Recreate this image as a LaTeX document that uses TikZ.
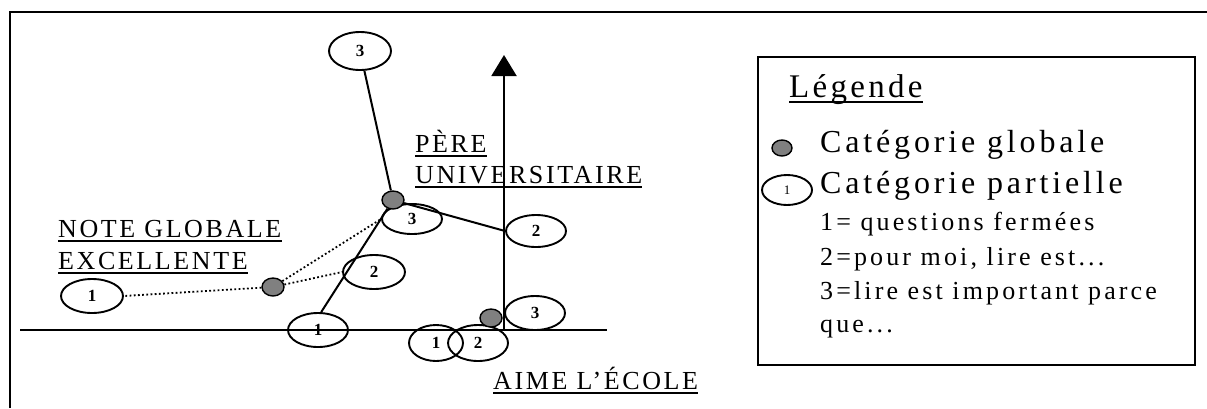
\documentclass[tikz,border=0pt]{standalone}
\usepackage{fontspec}
\setmainfont{Liberation Serif}
\newfontfamily\axisfont[LetterSpace=10]{Liberation Serif}
\newfontfamily\titlefont[LetterSpace=10]{Liberation Serif}
\newfontfamily\keyfont[LetterSpace=12]{Liberation Serif}
\usetikzlibrary{shapes.geometric,arrows.meta}
\definecolor{dotgray}{RGB}{128,128,128}

\begin{document}
\begin{tikzpicture}[x=1pt,y=-1pt,
  part/.style={ellipse,draw,line width=1.9pt,inner sep=0pt,
    font=\fontsize{17}{17}\selectfont\bfseries},
  glob/.style={ellipse,draw,line width=1.4pt,fill=dotgray,inner sep=0pt,
    minimum width=22pt,minimum height=18pt},
  link/.style={line width=2pt},
  dots/.style={line width=1.8pt,dash pattern=on 1.8pt off 2.4pt},
  axislabel/.style={anchor=base west,inner sep=0pt,
    font=\axisfont\fontsize{26}{28}\selectfont},
  keytext/.style={anchor=base west,inner sep=0pt},
  uline/.style={line width=1.3pt}]

\useasboundingbox (0,0) rectangle (1207,408);

% frame
\draw[line width=1.6pt] (10,408) -- (10,12) -- (1207,12);

% axes
\coordinate (origin) at (504,330);
\coordinate (xstart) at (20,330);
\coordinate (xend) at (607,330);
\coordinate (ytip) at (504,55);
\draw[link] (xstart) -- (xend);
\draw[link,-{Triangle[width=25pt,length=21pt]}] (origin) -- (ytip);

% partial categories
\node[part,minimum width=62pt,minimum height=38pt] (t3) at (360,51) {3};
\node[part,minimum width=60pt,minimum height=30pt] (m3) at (412,219) {3};
\node[part,minimum width=60pt,minimum height=32pt] (r2) at (536,231) {2};
\node[part,minimum width=60pt,minimum height=34pt] (b1) at (318,330) {1};
\node[part,minimum width=62pt,minimum height=34pt] (m2) at (374,272) {2};
\node[part,minimum width=62pt,minimum height=34pt] (l1) at (92,296) {1};
\node[part,minimum width=54pt,minimum height=36pt] (o1) at (436,343) {1};
\node[part,minimum width=60pt,minimum height=36pt] (o2) at (478,343) {2};
\node[part,minimum width=60pt,minimum height=34pt] (o3) at (535,313) {3};

% global categories
\node[glob] (ga) at (393,200) {};
\node[glob] (gb) at (273,287) {};
\node[glob] (gc) at (491,318) {};

% links
\draw[link] (t3) -- (ga);
\draw[link] (ga) -- (r2.west);
\draw[link] (ga) -- (b1.80);
\draw[dots] (gb) -- (l1.east);
\draw[dots] (gb) -- (m2.west);
\draw[dots] (gb) -- (m3.west);

% axis labels
\node[axislabel] (ng) at (58,237) {NOTE GLOBALE};
\node[axislabel] (ex) at (58,269) {EXCELLENTE};
\node[axislabel] (pe) at (415,152) {PÈRE};
\node[axislabel] (un) at (415,183) {UNIVERSITAIRE};
\node[axislabel] (ae) at (493,389) {AIME L’ÉCOLE};
\foreach \n in {ng,ex,pe,un,ae}
  \draw[uline] ([yshift=-4pt]\n.base west) -- ([yshift=-4pt]\n.base east);

% legend
\node[draw,line width=1.9pt,minimum width=437pt,minimum height=308pt,
  anchor=north west,inner sep=0pt] (legend) at (757,56) {};
\node[keytext,font=\titlefont\fontsize{33}{36}\selectfont] (lt) at (789,97) {Légende};
\draw[uline] ([yshift=-5pt]lt.base west) -- ([yshift=-5pt]lt.base east);
\node[glob,minimum width=20pt,minimum height=16pt] (kg) at (782,148) {};
\node[part,minimum width=50pt,minimum height=30pt,
  font=\fontsize{13}{13}\selectfont] (kp) at (787,190) {1};
\node[keytext,font=\keyfont\fontsize{32}{34}\selectfont] (k1) at (820,152) {Catégorie globale};
\node[keytext,font=\keyfont\fontsize{32}{34}\selectfont] (k2) at (820,193) {Catégorie partielle};
\node[keytext,font=\keyfont\fontsize{26}{28}\selectfont] (k3) at (820,230) {1= questions fermées};
\node[keytext,font=\keyfont\fontsize{26}{28}\selectfont] (k4) at (820,265) {2=pour moi, lire est...};
\node[keytext,font=\keyfont\fontsize{26}{28}\selectfont] (k5) at (820,299) {3=lire est important parce};
\node[keytext,font=\keyfont\fontsize{26}{28}\selectfont] (k6) at (820,332) {que...};
\end{tikzpicture}
\end{document}
